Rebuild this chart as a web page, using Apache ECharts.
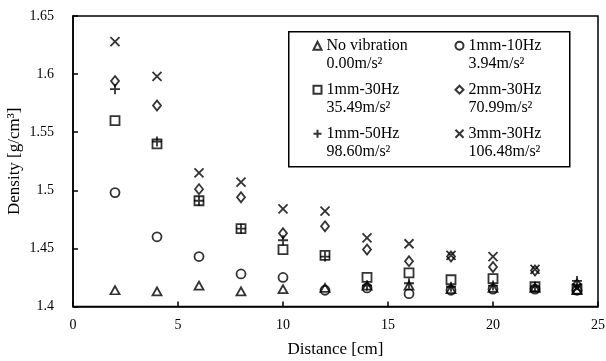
<!DOCTYPE html>
<html>
<head>
<meta charset="utf-8">
<script src="https://cdn.jsdelivr.net/npm/echarts@6/dist/echarts.min.js"></script>
<style>html,body{margin:0;padding:0;background:#fff}#c{width:606px;height:361px}</style>
</head>
<body>
<div id="c"></div>
<script>
// Data
const distance = [2, 4, 6, 8, 10, 12, 14, 16, 18, 20, 22, 24];
const seriesNames = ['No vibration', '1mm-10Hz', '1mm-30Hz', '2mm-30Hz', '1mm-50Hz', '3mm-30Hz'];
const accelLabels = ['0.00m/s²', '3.94m/s²', '35.49m/s²', '70.99m/s²', '98.60m/s²', '106.48m/s²'];
const noVibration = [1.414, 1.413, 1.418, 1.413, 1.415, 1.416, 1.418, 1.418, 1.415, 1.416, 1.416, 1.414];
const mm1hz10 = [1.498, 1.460, 1.443, 1.428, 1.425, 1.414, 1.416, 1.411, 1.414, 1.415, 1.415, 1.414];
const mm1hz30 = [1.560, 1.540, 1.491, 1.467, 1.449, 1.444, 1.425, 1.429, 1.423, 1.424, 1.417, 1.415];
const mm2hz30 = [1.594, 1.573, 1.501, 1.494, 1.463, 1.469, 1.449, 1.439, 1.443, 1.434, 1.431, 1.419];
const mm1hz50 = [1.587, 1.542, 1.491, 1.467, 1.457, 1.443, 1.418, 1.420, 1.417, 1.418, 1.417, 1.422];
const mm3hz30 = [1.628, 1.598, 1.515, 1.507, 1.484, 1.482, 1.459, 1.454, 1.444, 1.443, 1.432, 1.416];
const xTicks = [0, 5, 10, 15, 20, 25];
const yTicks = [1.4, 1.45, 1.5, 1.55, 1.6, 1.65];

const FONT = 'Liberation Serif';
const PLUS = 'path://M5,0L5,10M0,5L10,5';
const CROSS = 'path://M0,0L10,10M10,0L0,10';
const values = [noVibration, mm1hz10, mm1hz30, mm2hz30, mm1hz50, mm3hz30];
const symbols = ['triangle', 'circle', 'rect', 'diamond', PLUS, CROSS];
const sizes = [[9, 8], 9, 9, [8, 10], 10, 9];

const series = seriesNames.map((n, i) => ({
  name: n,
  type: 'scatter',
  symbol: symbols[i],
  symbolSize: sizes[i],
  data: distance.map((d, j) => [d, values[i][j]]),
  itemStyle: { color: 'none', borderColor: '#000', borderWidth: 1.8 },
  emphasis: { disabled: true },
  z: 3
}));

function legendFor(names, left) {
  return {
    orient: 'vertical',
    left: left, top: 18.7, padding: 0,
    itemWidth: 8, itemHeight: 8, itemGap: -10,
    selectedMode: false,
    data: names.map(n => ({ name: n, icon: symbols[seriesNames.indexOf(n)] })),
    formatter: n => '\n' + n + '\n' + accelLabels[seriesNames.indexOf(n)],
    itemStyle: { color: 'none', borderColor: '#000', borderWidth: 2 },
    textStyle: { fontFamily: FONT, fontSize: 16, color: '#000', lineHeight: 18 }
  };
}

const chart = echarts.init(document.getElementById('c'), null, { renderer: 'canvas' });
chart.setOption({
  animation: false,
  backgroundColor: '#fff',
  grid: { left: 73, right: 8, top: 16, bottom: 54.5, show: true, borderColor: '#000', borderWidth: 1.5,
    containLabel: false, outerBoundsMode: 'none' },
  graphic: [{
    type: 'rect', left: 288, top: 31, z: 1,
    shape: { width: 281, height: 135 },
    style: { fill: '#fff', stroke: '#000', lineWidth: 1.5 }
  }],
  legend: [
    legendFor(['No vibration', '1mm-30Hz', '1mm-50Hz'], 311),
    legendFor(['1mm-10Hz', '2mm-30Hz', '3mm-30Hz'], 453)
  ],
  xAxis: {
    type: 'value', min: xTicks[0], max: xTicks[xTicks.length - 1], interval: 5,
    name: 'Distance [cm]', nameLocation: 'middle', nameGap: 35, nameMoveOverlap: false,
    nameTextStyle: { fontFamily: FONT, fontSize: 17, color: '#000' },
    axisLine: { lineStyle: { color: '#000', width: 1.5 } },
    axisTick: { inside: true, length: 5, lineStyle: { color: '#000', width: 1.5 } },
    axisLabel: { fontFamily: FONT, fontSize: 14, color: '#000', margin: 12 },
    splitLine: { show: false }
  },
  yAxis: {
    type: 'value', min: yTicks[0], max: yTicks[yTicks.length - 1], interval: 0.05,
    name: 'Density [g/cm³]', nameLocation: 'middle', nameGap: 50, nameMoveOverlap: false,
    nameTextStyle: { fontFamily: FONT, fontSize: 17, color: '#000' },
    axisLine: { show: true, lineStyle: { color: '#000', width: 1.5 } },
    axisTick: { show: true, inside: true, length: 5, lineStyle: { color: '#000', width: 1.5 } },
    axisLabel: { fontFamily: FONT, fontSize: 14, color: '#000', margin: 19,
      formatter: v => String(parseFloat(v.toFixed(2))) },
    splitLine: { show: false }
  },
  series: series
});
</script>
</body>
</html>
